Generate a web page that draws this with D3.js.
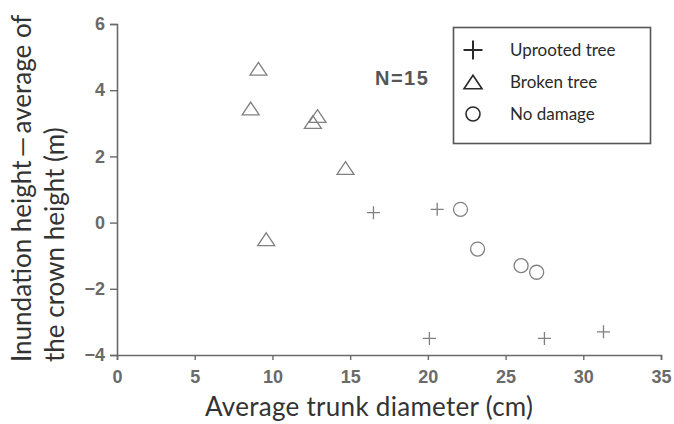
<!DOCTYPE html>
<html><head><meta charset="utf-8">
<script src="https://cdn.jsdelivr.net/npm/d3@7"></script>
<style>body{margin:0;background:#fff}</style>
</head><body>
<svg id="c" width="674" height="424"></svg>
<script>
const uprootedX = [16.5, 20.6, 20.1, 27.5, 31.3];
const uprootedY = [0.3, 0.4, -3.5, -3.5, -3.3];
const brokenX = [9.1, 8.6, 12.6, 12.9, 14.7, 9.6];
const brokenY = [4.65, 3.45, 3.04, 3.22, 1.65, -0.5];
const noDamageX = [22.1, 23.2, 26.0, 27.0];
const noDamageY = [0.4, -0.8, -1.3, -1.5];
const xTicks = [0, 5, 10, 15, 20, 25, 30, 35];
const yTicks = [-4, -2, 0, 2, 4, 6];
const legendLabels = ["Uprooted tree", "Broken tree", "No damage"];
const xTitle = "Average trunk diameter (cm)";
const yTitle1 = "Inundation height\u2009\u2014\u2009average of";
const yTitle2 = "the crown height (m)";
const note = "N=15";

const svg = d3.select("#c");
const m = {l:117, t:24, r:13, b:69};
const W = 674 - m.l - m.r, H = 424 - m.t - m.b;
const x = d3.scaleLinear().domain([0,35]).range([m.l, m.l+W]);
const y = d3.scaleLinear().domain([-4,6]).range([m.t+H, m.t]);
const axCol = "#6a6a6a";

const gx = svg.append("g").attr("transform",`translate(0,${m.t+H})`)
  .call(d3.axisBottom(x).tickValues(xTicks).tickSizeOuter(0).tickSize(5).tickPadding(10).tickFormat(d3.format("d")));
const gy = svg.append("g").attr("transform",`translate(${m.l},0)`)
  .call(d3.axisLeft(y).tickValues(yTicks).tickSizeOuter(0).tickSize(7).tickPadding(5).tickFormat(d=>d<0?"\u2212"+Math.abs(d):d));
[gx,gy].forEach(g=>{
  g.select(".domain").attr("stroke",axCol).attr("stroke-width",1.6);
  g.selectAll(".tick line").attr("stroke",axCol).attr("stroke-width",1.4);
  g.selectAll(".tick text").attr("fill","#6a6a6a").style("font-family","Liberation Sans, Arial, sans-serif").style("font-size","18px").style("font-weight","bold");
});

const mk = "#808080";
function tri(s){ const h=s*0.75; return `M0,${-h/2}L${s/2},${h/2}L${-s/2},${h/2}Z`; }
function plus(s){ return `M${-s/2},0H${s/2}M0,${-s/2}V${s/2}`; }

svg.append("g").selectAll("path").data(uprootedX.map((v,i)=>[v,uprootedY[i]])).join("path")
  .attr("d",plus(13)).attr("transform",d=>`translate(${x(d[0])},${y(d[1])})`)
  .attr("stroke",mk).attr("stroke-width",1.3).attr("fill","none");
svg.append("g").selectAll("path").data(brokenX.map((v,i)=>[v,brokenY[i]])).join("path")
  .attr("d",tri(17)).attr("transform",d=>`translate(${x(d[0])},${y(d[1])})`)
  .attr("stroke",mk).attr("stroke-width",1.3).attr("fill","none");
svg.append("g").selectAll("circle").data(noDamageX.map((v,i)=>[v,noDamageY[i]])).join("circle")
  .attr("cx",d=>x(d[0])).attr("cy",d=>y(d[1])).attr("r",7)
  .attr("stroke",mk).attr("stroke-width",1.3).attr("fill","none");

// legend
const lg = svg.append("g");
lg.append("rect").attr("x",453.5).attr("y",27.5).attr("width",197).attr("height",116)
  .attr("fill","#fff").attr("stroke","#555").attr("stroke-width",1.6);
const ly = [50, 82, 114];
const lcol = "#2a2a2a";
lg.append("path").attr("d",plus(19)).attr("transform",`translate(473,${ly[0]})`).attr("stroke",lcol).attr("stroke-width",2).attr("fill","none");
lg.append("path").attr("d",tri(18)).attr("transform",`translate(473,${ly[1]})`).attr("stroke",lcol).attr("stroke-width",1.6).attr("fill","none");
lg.append("circle").attr("cx",473).attr("cy",ly[2]).attr("r",7).attr("stroke",lcol).attr("stroke-width",1.6).attr("fill","none");
lg.selectAll("text").data(legendLabels).join("text")
  .attr("x",510).attr("y",(d,i)=>ly[i]+6).text(d=>d)
  .attr("fill","#2a2a2a").style("font-family","Lato, sans-serif").style("font-size","17px");

svg.append("text").attr("x",375).attr("y",85).text(note)
  .attr("fill","#555").style("font-family","Liberation Sans, Arial, sans-serif").style("font-size","20px").style("font-weight","bold").style("letter-spacing","1.5px");

svg.append("text").attr("x",205).attr("y",416).text(xTitle)
  .attr("textLength",328).attr("lengthAdjust","spacing")
  .attr("fill","#333").style("font-family","Lato, sans-serif").style("font-size","26px");
const yt = svg.append("g").attr("transform","translate(0,362) rotate(-90)");
yt.append("text").attr("x",0).attr("y",31).text(yTitle1)
  .attr("fill","#333").style("font-family","Lato, sans-serif").style("font-size","26px");
yt.append("text").attr("x",0).attr("y",64).text(yTitle2)
  .attr("fill","#333").style("font-family","Lato, sans-serif").style("font-size","26px");
</script>
</body></html>
